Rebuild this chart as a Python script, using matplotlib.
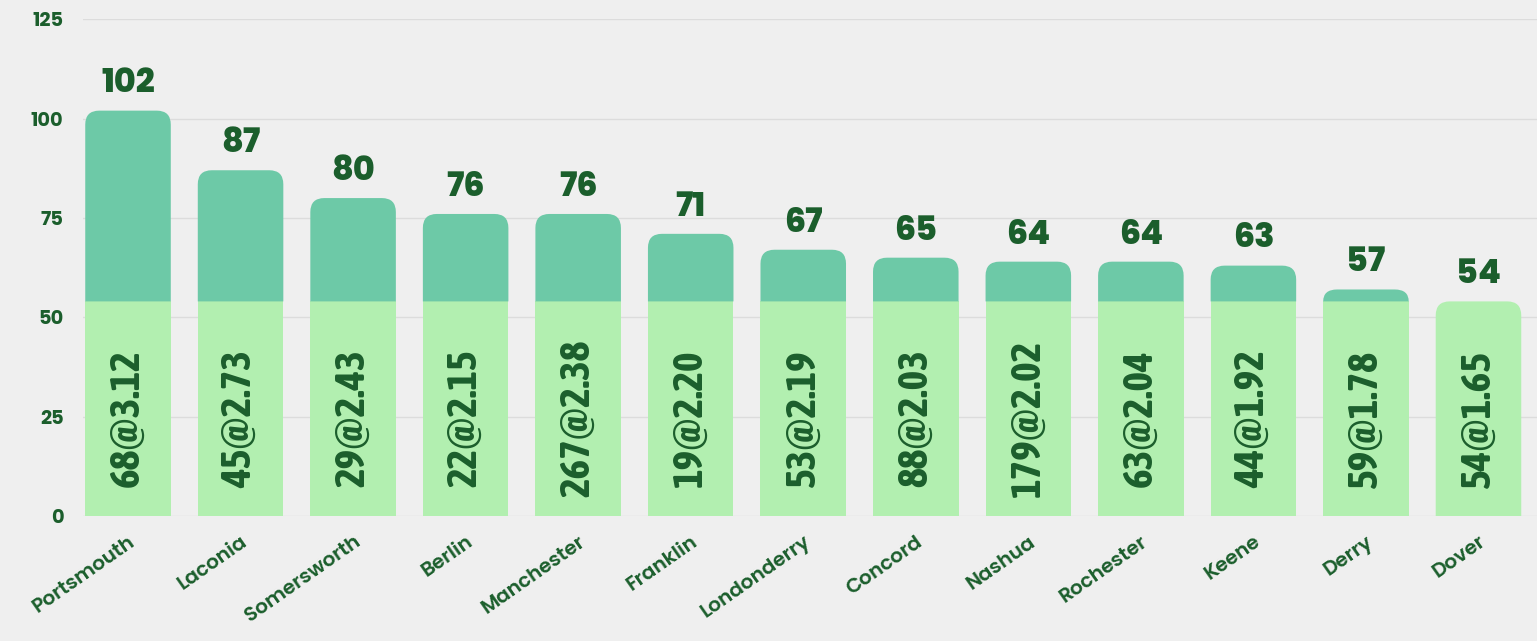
import numpy as np
import matplotlib.pyplot as plt
import matplotlib.transforms as mtransforms
from matplotlib.path import Path
from matplotlib.patches import PathPatch
from matplotlib import font_manager

cities = ['Portsmouth', 'Laconia', 'Somersworth', 'Berlin', 'Manchester', 'Franklin',
          'Londonderry', 'Concord', 'Nashua', 'Rochester', 'Keene', 'Derry', 'Dover']
totals = [102, 87, 80, 76, 76, 71, 67, 65, 64, 64, 63, 57, 54]
base = [54] * 13
inner_labels = ['68@3.12', '45@2.73', '29@2.43', '22@2.15', '267@2.38', '19@2.20',
                '53@2.19', '88@2.03', '179@2.02', '63@2.04', '44@1.92', '59@1.78', '54@1.65']
yticks = [0, 25, 50, 75, 100, 125]

dark = '#1b5e2c'
top_color = '#6dc9a7'
base_color = '#b2efb0'
bg = '#efefef'

fonts = set((f.name, f.weight) for f in font_manager.fontManager.ttflist)


def pick(cands, weight):
    # only take a family that really ships the wanted weight
    for c in cands:
        if (c, weight) in fonts:
            return c
    return 'DejaVu Sans'


narrow = pick(['Asap Condensed', 'Archivo Narrow', 'Roboto Condensed'], 700)
geo_heavy = pick(['Montserrat', 'Poppins', 'Raleway', 'Lato', 'Open Sans'], 800)
if geo_heavy == 'DejaVu Sans':
    geo_heavy = pick(['Montserrat', 'Poppins', 'Raleway', 'Lato', 'Open Sans'], 700)
geo = pick(['Montserrat', 'Poppins', 'Raleway', 'Lato', 'Open Sans'], 600)
if geo == 'DejaVu Sans':
    geo = pick(['Montserrat', 'Poppins', 'Raleway', 'Lato', 'Open Sans'], 700)

fig = plt.figure(figsize=(15.37, 6.41), dpi=100, facecolor=bg)
ax = fig.add_axes([0.054, 0.195, 0.946, 0.775], facecolor=bg)
ax.set_xlim(-0.40, 12.52)
ax.set_ylim(0, 125)

# pixel scale, used to keep corner radius round
p0 = ax.transData.transform((0, 0))
p1 = ax.transData.transform((1, 1))
sx, sy = p1[0] - p0[0], p1[1] - p0[1]
r_px = 14
rx, ry_full = r_px / sx, r_px / sy


def rounded_top(x0, x1, y0, y1, color):
    ry = min(ry_full, y1 - y0)
    verts = [(x0, y0), (x0, y1 - ry), (x0, y1), (x0 + rx, y1), (x1 - rx, y1),
             (x1, y1), (x1, y1 - ry), (x1, y0), (x0, y0)]
    codes = [Path.MOVETO, Path.LINETO, Path.CURVE3, Path.CURVE3, Path.LINETO,
             Path.CURVE3, Path.CURVE3, Path.LINETO, Path.CLOSEPOLY]
    ax.add_patch(PathPatch(Path(verts, codes), facecolor=color, edgecolor='none', zorder=3))


w = 0.76
x = np.arange(len(cities))
for i in range(len(cities)):
    x0, x1 = x[i] - w / 2, x[i] + w / 2
    if totals[i] > base[i]:
        ax.bar(x[i], base[i], width=w, color=base_color, zorder=3)
        rounded_top(x0, x1, base[i], totals[i], top_color)
    else:
        rounded_top(x0, x1, 0, totals[i], base_color)
    ax.text(x[i], totals[i] + 2.3, str(totals[i]), ha='center', va='bottom',
            fontsize=24, fontweight=800, color=dark, family=geo_heavy, zorder=4)
    ax.text(x[i], 24.5, inner_labels[i], rotation=90, ha='center', va='center',
            fontsize=30, fontweight='bold', color=dark, family=narrow, zorder=4)

ax.set_yticks(yticks)
ax.set_yticklabels([str(v) for v in yticks], fontsize=14, fontweight='bold',
                   color=dark, family=geo)
ax.set_xticks(x)
ax.set_xticklabels(cities, rotation=35, ha='right', rotation_mode='anchor',
                   fontsize=14.5, fontweight=600, color=dark, family=geo)
# nudge the slanted city names a little to the right
shift = mtransforms.ScaledTranslation(10 / 72, 0, fig.dpi_scale_trans)
for lbl in ax.get_xticklabels():
    lbl.set_transform(lbl.get_transform() + shift)
ax.tick_params(axis='both', length=0)
ax.tick_params(axis='y', pad=14)
ax.tick_params(axis='x', pad=12)
ax.grid(axis='y', color='#dcdcdc', linewidth=1, zorder=0)
for s in ax.spines.values():
    s.set_visible(False)

fig.savefig('out.png', dpi=100, facecolor=bg)
